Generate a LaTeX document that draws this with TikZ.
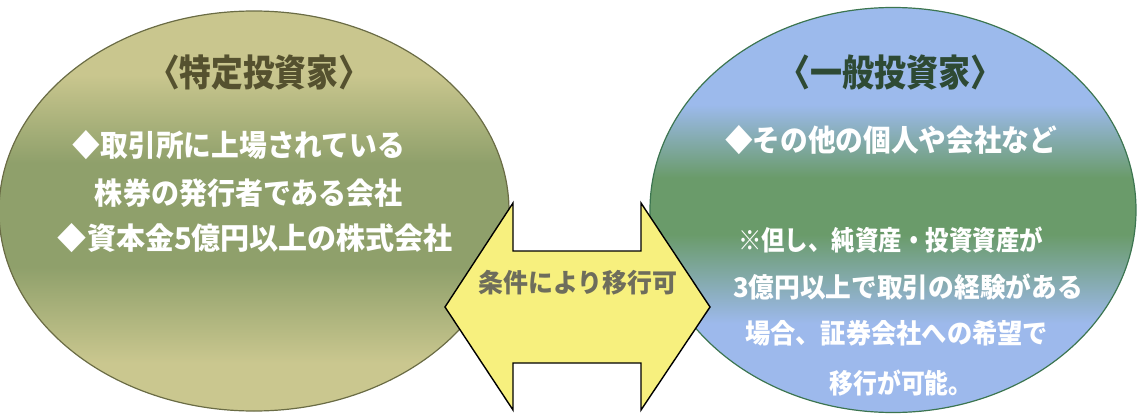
\documentclass[tikz,border=0pt]{standalone}
\usepackage{fontspec}
\usepackage{graphicx}
\newfontfamily\jp{Noto Sans CJK JP}
\usetikzlibrary{shapes.geometric}
\definecolor{lTop}{HTML}{C9C68E}
\definecolor{lMid}{HTML}{8FA06B}
\definecolor{lBot}{HTML}{CAC78F}
\definecolor{lEdge}{HTML}{6A6C45}
\definecolor{rTop}{HTML}{9CBAEC}
\definecolor{rMid}{HTML}{6A9B6A}
\definecolor{rBot}{HTML}{9DB9EC}
\definecolor{rEdge}{HTML}{3C7550}
\definecolor{arrowFill}{HTML}{F7F07E}
\definecolor{arrowText}{HTML}{6E6D5C}
\definecolor{lTitle}{HTML}{55512F}
\definecolor{rTitle}{HTML}{2E4A34}
\pgfdeclareverticalshading{leftshade}{100bp}{color(0bp)=(lBot); color(25bp)=(lBot); color(31bp)=(lBot); color(43bp)=(lMid); color(56bp)=(lMid); color(67bp)=(lTop); color(75bp)=(lTop); color(100bp)=(lTop)}
\pgfdeclareverticalshading{rightshade}{100bp}{color(0bp)=(rBot); color(25bp)=(rBot); color(36bp)=(rBot); color(47bp)=(rMid); color(54bp)=(rMid); color(63bp)=(rTop); color(75bp)=(rTop); color(100bp)=(rTop)}
\newcommand{\fitw}[2]{\resizebox{#1pt}{\height}{#2}}
\begin{document}
\begin{tikzpicture}[x=1pt,y=-1pt,
  bubble/.style={ellipse, inner sep=0pt, line width=1.2pt},
  title/.style={font=\jp\bfseries\fontsize{37}{39}\selectfont, inner sep=0pt},
  body/.style={font=\jp\bfseries\fontsize{30}{32}\selectfont, text=white, inner sep=0pt},
  small/.style={font=\jp\bfseries\fontsize{27}{29}\selectfont, text=white, inner sep=0pt},
  arrowshape/.style={fill=arrowFill, draw=black, line width=1.4pt, line join=miter},
  arrowlabel/.style={font=\jp\bfseries\fontsize{26}{28}\selectfont, text=arrowText, inner sep=0pt}]
\useasboundingbox (0,0) rectangle (1137,417);

% ellipses
\node[bubble, draw=lEdge, shading=leftshade,
      minimum width=510pt, minimum height=400pt] (special) at (254,211) {};
\node[bubble, draw=rEdge, shading=rightshade,
      minimum width=486pt, minimum height=405pt] (general) at (893,210) {};

% double arrow
\coordinate (tipL) at (445,307);
\coordinate (tipR) at (710,307);
\draw[arrowshape] (tipL) -- (513,203) -- (513,251) -- (641,251) -- (641,203)
  -- (tipR) -- (641,410) -- (641,363) -- (513,363) -- (513,410) -- cycle;
\node[arrowlabel] (cond) at (578,283) {\fitw{199}{条件により移行可}};

% left texts
\node[title, text=lTitle] (ltitle) at (259,73) {\fitw{222}{〈特定投資家〉}};
\node[body] (l1) at (239,145) {\fitw{332}{◆取引所に上場されている}};
\node[body] (l2) at (249,193) {\fitw{308}{株券の発行者である会社}};
\node[body] (l3) at (255.5,238) {\fitw{395}{◆資本金5億円以上の株式会社}};

% right texts
\node[title, text=rTitle] (rtitle) at (890,72) {\fitw{224}{〈一般投資家〉}};
\node[body] (r1) at (891,140) {\fitw{332}{◆その他の個人や会社など}};
\node[small] (r2) at (890.5,240) {\fitw{305}{※但し、純資産・投資資産が}};
\node[small] (r3) at (908,287) {\fitw{350}{3億円以上で取引の経験がある}};
\node[small] (r4) at (896.5,333) {\fitw{303}{場合、証券会社への希望で}};
\node[small] (r5) at (901,383) {\fitw{143}{移行が可能。}};
\end{tikzpicture}
\end{document}
